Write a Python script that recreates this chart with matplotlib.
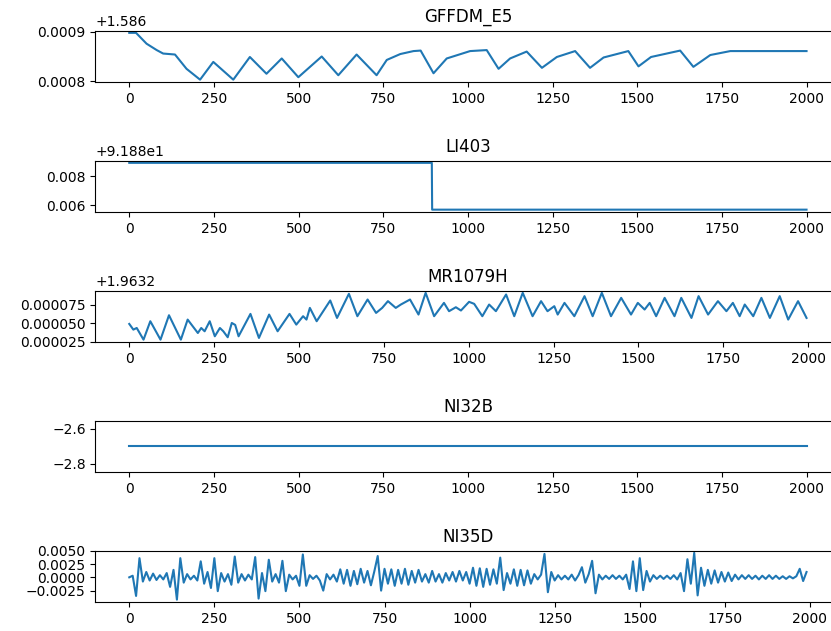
import matplotlib
matplotlib.use('Agg')
import matplotlib.pyplot as plt
from matplotlib.ticker import ScalarFormatter, MultipleLocator

# values (keypoints, x = sample index)
names = ['GFFDM_E5', 'LI403', 'MR1079H', 'NI32B', 'NI35D']

gffdm_x = [0, 20, 51, 81, 100, 135, 169, 209, 248, 307, 356, 405, 450, 499, 568, 617,
           671, 730, 760, 800, 839, 860, 898, 937, 1006, 1055, 1090, 1124, 1173, 1218,
           1262, 1316, 1360, 1400, 1473, 1503, 1540, 1626, 1665, 1715, 1774, 1999]
gffdm_y = [1.586898, 1.586898, 1.586876, 1.586863, 1.586856, 1.586854, 1.586825, 1.586803,
           1.586839, 1.586803, 1.586849, 1.586815, 1.586846, 1.586808, 1.586850, 1.586812,
           1.586854, 1.586812, 1.586843, 1.586855, 1.586861, 1.586862, 1.586816, 1.586846,
           1.586861, 1.586863, 1.586825, 1.586846, 1.586860, 1.586827, 1.586849, 1.586861,
           1.586827, 1.586848, 1.586861, 1.586830, 1.586849, 1.586862, 1.586829, 1.586853,
           1.586861, 1.586861]

li403_x = [0, 893, 894, 1999]
li403_y = [91.8889, 91.8889, 91.8857, 91.8857]

mr_x = [0, 12, 22, 42, 62, 92, 117, 152, 172, 202, 212, 222, 237, 252, 267, 277, 290,
        302, 312, 322, 357, 382, 412, 437, 472, 492, 512, 522, 532, 552, 592, 612, 647,
        672, 702, 727, 745, 762, 785, 800, 827, 852, 873, 898, 927, 942, 962, 977, 1001,
        1016, 1040, 1060, 1080, 1110, 1134, 1159, 1188, 1213, 1232, 1252, 1262, 1282,
        1311, 1341, 1365, 1392, 1419, 1449, 1478, 1498, 1518, 1533, 1552, 1577, 1606,
        1626, 1656, 1677, 1705, 1734, 1759, 1778, 1798, 1813, 1838, 1862, 1887, 1916,
        1941, 1970, 1995]
mr_y = [1.9632491, 1.9632415, 1.9632437, 1.9632281, 1.9632527, 1.9632281, 1.9632607,
        1.9632281, 1.9632549, 1.9632370, 1.9632437, 1.9632393, 1.9632527, 1.9632326,
        1.9632437, 1.9632393, 1.9632313, 1.9632504, 1.9632478, 1.9632326, 1.9632625,
        1.9632304, 1.9632616, 1.9632393, 1.9632625, 1.9632482, 1.9632594, 1.9632549,
        1.9632705, 1.9632527, 1.9632804, 1.9632571, 1.9632893, 1.9632594, 1.9632817,
        1.9632638, 1.9632705, 1.9632795, 1.9632705, 1.9632750, 1.9632817, 1.9632616,
        1.9632906, 1.9632594, 1.9632772, 1.9632661, 1.9632714, 1.9632670, 1.9632786,
        1.9632759, 1.9632594, 1.9632750, 1.9632661, 1.9632884, 1.9632594, 1.9632906,
        1.9632594, 1.9632795, 1.9632661, 1.9632728, 1.9632616, 1.9632772, 1.9632594,
        1.9632862, 1.9632594, 1.9632906, 1.9632594, 1.9632839, 1.9632616, 1.9632772,
        1.9632683, 1.9632772, 1.9632594, 1.9632839, 1.9632594, 1.9632839, 1.9632571,
        1.9632862, 1.9632616, 1.9632795, 1.9632661, 1.9632772, 1.9632594, 1.9632750,
        1.9632594, 1.9632839, 1.9632571, 1.9632862, 1.9632549, 1.9632795, 1.9632571]

ni32b_x = [0, 1999]
ni32b_y = [-2.7, -2.7]

ni35d_x = list(range(0, 2000, 10))
ni35d_y = [
    0.0000, 0.0003, -0.0035, 0.0036, -0.0008, 0.0010, -0.0006, 0.0007, -0.0005, 0.0004,
    -0.0004, 0.0008, -0.0018, 0.0014, -0.0042, 0.0036, -0.0010, 0.0006, -0.0004, 0.0003,
    -0.0006, 0.0030, -0.0012, 0.0010, -0.0020, 0.0036, -0.0026, 0.0008, -0.0008, 0.0006,
    -0.0014, 0.0039, -0.0010, 0.0006, -0.0006, 0.0005, -0.0004, 0.0038, -0.0040, 0.0008,
    -0.0026, 0.0033, -0.0008, 0.0006, -0.0010, 0.0031, -0.0026, 0.0005, -0.0004, 0.0003,
    -0.0016, 0.0043, -0.0016, 0.0004, -0.0003, 0.0003, -0.0006, -0.0025, 0.0006, -0.0004,
    0.0005, -0.0008, 0.0015, -0.0012, 0.0014, -0.0016, 0.0012, -0.0013, 0.0016, -0.0010,
    0.0012, -0.0015, 0.0011, 0.0040, -0.0025, 0.0016, -0.0012, 0.0015, -0.0016, 0.0014,
    -0.0012, 0.0016, -0.0014, 0.0012, -0.0010, 0.0014, -0.0008, 0.0006, -0.0010, 0.0012,
    -0.0008, 0.0006, -0.0010, 0.0008, -0.0006, 0.0010, -0.0008, 0.0012, -0.0006, 0.0010,
    -0.0012, 0.0018, -0.0016, 0.0017, -0.0018, 0.0016, -0.0014, 0.0015, -0.0012, 0.0037,
    -0.0024, 0.0008, -0.0012, 0.0015, -0.0016, 0.0014, -0.0015, 0.0013, -0.0012, 0.0006,
    -0.0004, 0.0005, 0.0044, -0.0028, 0.0010, -0.0006, 0.0004, -0.0004, 0.0003, -0.0004,
    0.0005, -0.0006, 0.0004, 0.0019, -0.0010, 0.0006, 0.0031, -0.0030, 0.0005, -0.0004,
    0.0003, -0.0003, 0.0004, -0.0003, 0.0003, -0.0004, 0.0005, -0.0022, 0.0030, -0.0026,
    0.0036, -0.0024, 0.0012, -0.0008, 0.0004, -0.0003, 0.0003, -0.0003, 0.0003, -0.0003,
    0.0004, -0.0004, 0.0008, -0.0026, 0.0034, -0.0012, 0.0046, -0.0034, 0.0018, -0.0016,
    0.0014, -0.0012, 0.0013, -0.0010, 0.0010, -0.0008, 0.0009, -0.0007, 0.0005, -0.0004,
    0.0004, -0.0003, 0.0004, -0.0003, 0.0003, -0.0004, 0.0003, -0.0003, 0.0004, -0.0003,
    0.0003, -0.0003, 0.0002, -0.0003, 0.0002, -0.0002, 0.0002, 0.0016, -0.0007, 0.0010,
]

series = [(gffdm_x, gffdm_y), (li403_x, li403_y), (mr_x, mr_y),
          (ni32b_x, ni32b_y), (ni35d_x, ni35d_y)]

W, H = 831, 631
fig = plt.figure(figsize=(W / 100, H / 100), dpi=100)

left = 95.4 / W
width = 745.0 / W
ax_h = 51.5
axes = []
for i, (name, (xs, ys)) in enumerate(zip(names, series)):
    top = 30.5 + 130 * i
    ax = fig.add_axes([left, 1 - (top + ax_h) / H, width, ax_h / H])
    ax.plot(xs, ys)
    ax.set_title(name)
    ax.set_xticks([0, 250, 500, 750, 1000, 1250, 1500, 1750, 2000])
    axes.append(ax)

# old-style plain decimal tick labels
fmt = ScalarFormatter()
fmt.set_powerlimits((-10, 10))
axes[2].yaxis.set_major_formatter(fmt)
axes[2].yaxis.set_major_locator(MultipleLocator(0.000025))
axes[4].yaxis.set_major_locator(MultipleLocator(0.0025))

plt.savefig('out.png', dpi=100)
